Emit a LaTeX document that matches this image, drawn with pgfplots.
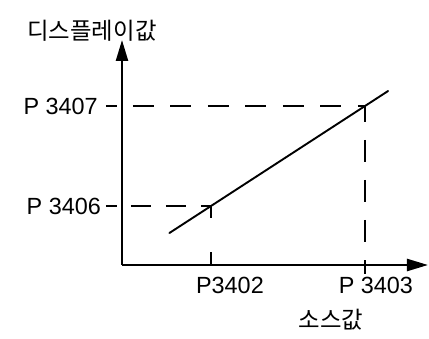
\documentclass[border=0pt]{standalone}
\usepackage{pgfplots}
\pgfplotsset{compat=1.18}
\usepackage{fontspec}
\setmainfont{Liberation Sans}
\newfontfamily\kr{Noto Sans CJK KR}
\usetikzlibrary{arrows.meta}

\begin{document}
\begin{tikzpicture}
\useasboundingbox (0,0) rectangle (429pt,-339pt);
\begin{axis}[
  at={(122pt,-265pt)}, anchor=south west,
  scale only axis, width=306pt, height=225pt,
  xmin=3401.4221, xmax=3403.409,
  ymin=3405.41, ymax=3407.66,
  axis lines=left,
  axis line style={line width=2.4pt, -{Triangle[length=21pt,width=12pt]}},
  xtick=\empty, ytick=\empty,
  clip=false,
  font=\fontsize{23.4}{28}\selectfont,
]
% source value vs. displayed value
\addplot[black, line width=1.9pt, line cap=round] coordinates {(3401.73,3405.73) (3403.15,3407.15)};

% guide lines from the axes to the two read-off points
\addplot[black, line width=1.4pt, dash pattern=on 21pt off 16.5pt] coordinates {(3401.4935,3407) (3403,3407)};
\addplot[black, line width=1.4pt, dash pattern=on 20pt off 15pt] coordinates {(3401.4805,3406) (3402,3406)};
\addplot[black, line width=1.4pt, dash pattern=on 22pt off 18pt, dash phase=5pt] coordinates {(3403,3407.01) (3403,3405.32)};
\addplot[black, line width=1.4pt, dash pattern=on 13pt off 34pt] coordinates {(3402,3406.01) (3402,3405.41)};

% short ticks left of the vertical axis
\addplot[black, line width=1.4pt] coordinates {(3401.318,3407) (3401.39,3407)};
\addplot[black, line width=1.4pt] coordinates {(3401.318,3406) (3401.39,3406)};

% labels
\node[anchor=east, inner sep=0pt] at (axis cs:3401.266,3407) {P 3407};
\node[anchor=east, inner sep=0pt] at (axis cs:3401.286,3406) {P 3406};
\node[inner sep=0pt] at (axis cs:3402.123,3405.205) {P3402};
\node[inner sep=0pt] at (axis cs:3403.071,3405.205) {P 3403};
\node[inner sep=0pt] at (axis cs:3402.779,3404.86) {\kr 소스값};
\node[inner sep=0pt] at (axis cs:3401.227,3407.75) {\kr 디스플레이값};
\end{axis}
\end{tikzpicture}
\end{document}
